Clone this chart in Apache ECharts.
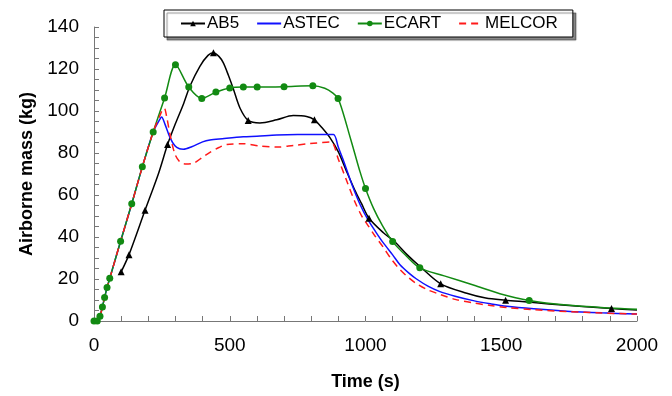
<!DOCTYPE html>
<html><head><meta charset="utf-8">
<script src="https://cdn.jsdelivr.net/npm/echarts@6/dist/echarts.min.js"></script>
<style>html,body{margin:0;padding:0;background:#fff}#c{width:672px;height:396px}</style>
</head><body><div id="c"></div>
<script>
const seriesNames = ['AB5', 'ASTEC', 'ECART', 'MELCOR'];
const xTickLabels = [0, 500, 1000, 1500, 2000];
const yTickLabels = [0, 20, 40, 60, 80, 100, 120, 140];

const ab5Time = [100,129,188,237,271,300,330,354,390,420,440,460,476,495,513,538,568,611,673,734,783,812,840,869,900,931,960,985,1013,1066,1105,1154,1203,1277,1373,1443,1516,1600,1676,1799,1906,2000];
const ab5Mass = [23.4,31.6,52.7,70,84,94,103.5,112,121.3,126.5,127.7,126,123,117,110.6,101.3,95.5,94.3,95.8,97.8,97.4,95.8,92,87.3,80.5,71,62.5,56,48.9,42,38.1,31.5,25.7,17.7,13.2,10.9,9.9,9,8.1,6.9,5.9,5.2];
const ab5Markers = [100,129,188,271,440,568,812,1013,1277,1516,1906];

const astecTime = [0,12,22,31,39,48,58,98,139,178,218,240,249,262,280,298,315,329,360,400,427,473,550,600,673,750,800,850,882,900,920,950,980,1010,1040,1065,1100,1127,1160,1188,1230,1274,1330,1397,1460,1520,1620,1741,1870,2000];
const astecMass = [0,0,2.3,6.7,11.2,15.9,20.3,38,55.8,73.4,90,95.5,97.2,93.5,87.3,83.4,82,81.8,83,85.3,86.2,86.8,87.7,88,88.6,88.8,88.8,88.8,88.8,82.7,76,65,55.5,48,42,37.3,31.5,26.8,22.8,20,16.6,14,11.8,9.7,8.2,7,5.8,4.7,3.9,3.3];

const ecartTime = [0,12,22,31,39,48,58,98,139,178,218,260,300,349,397,449,500,550,601,700,806,850,880,899,920,940,960,980,1000,1030,1060,1100,1150,1200,1290,1400,1495,1603,1740,1900,2000];
const ecartMass = [0,0,2.3,6.7,11.2,15.9,20.3,38,55.8,73.4,90,106.2,122,111.4,106,109,111,111.4,111.4,111.6,112,110.8,108.5,105.9,98,89,80,71,63.1,53.5,46,37.8,31,25.3,21.5,17,13,9.8,7.6,6.2,5.6];
const ecartMarkers = [0,12,22,31,39,48,58,98,139,178,218,260,300,349,397,449,500,550,601,700,806,899,1000,1100,1200,1603];

const melcorTime = [0,12,22,31,39,48,58,98,139,178,218,245,252,259,268,280,298,317,335,365,400,427,460,489,550,611,673,734,796,872,900,930,960,990,1004,1035,1065,1095,1127,1160,1188,1230,1274,1330,1397,1460,1520,1620,1741,1870,2000];
const melcorMass = [0,0,2.3,6.7,11.2,15.9,20.3,38,55.8,73.4,90,98.5,100.5,101.3,97,88.8,79.5,75.6,74.8,75.1,78,80.3,82.6,84.1,84.4,83.3,82.8,83.6,84.5,85.2,77,67,57,49,46.5,40.5,35.2,29.5,24.5,20.5,17.8,14.8,12.7,10.3,8.6,7.4,6.4,5.4,4.5,3.8,3.3];

function build(times, masses, markers) {
  return times.map((t, i) => {
    const item = { value: [t, masses[i]] };
    if (!markers || markers.indexOf(t) < 0) item.symbol = 'none';
    return item;
  });
}

const FONT = "'Liberation Sans', Arial, Helvetica, sans-serif";
const chart = echarts.init(document.getElementById('c'), null, { renderer: 'canvas' });

const baseSeries = (name, color, symbol, data, dashed) => ({
  name, type: 'line', data,
  smooth: 0.3,
  symbol: symbol || 'none', symbolSize: 7,
  showAllSymbol: true,
  lineStyle: { color, width: 1.5, type: dashed ? [7, 5] : 'solid' },
  itemStyle: { color },
  emphasis: { disabled: true },
  animation: false,
  z: 2
});

chart.setOption({
  animation: false,
  backgroundColor: '#fff',
  grid: { left: 94, right: 35, top: 27, bottom: 69 },
  legend: {
    data: [
      { name: seriesNames[0] },
      { name: seriesNames[1], itemStyle: { opacity: 0 } },
      { name: seriesNames[2] },
      { name: seriesNames[3], itemStyle: { opacity: 0 } }
    ],
    left: 164, top: 10,
    padding: [5, 15, 5, 16],
    itemGap: 17,
    itemWidth: 24, itemHeight: 7,
    backgroundColor: '#fff',
    borderColor: '#000', borderWidth: 1,
    shadowColor: 'rgba(0,0,0,0.45)', shadowBlur: 1, shadowOffsetX: 3, shadowOffsetY: 3,
    textStyle: { fontFamily: FONT, fontSize: 17, color: '#000', padding: [0, 0, 0, -3] }
  },
  xAxis: {
    type: 'value',
    min: xTickLabels[0], max: xTickLabels[xTickLabels.length - 1],
    interval: xTickLabels[1] - xTickLabels[0],
    name: 'Time (s)', nameLocation: 'middle', nameGap: 52,
    nameTextStyle: { fontFamily: FONT, fontSize: 18, fontWeight: 'bold', color: '#000' },
    axisLine: { show: true, lineStyle: { color: '#777', width: 1 } },
    axisTick: { show: true, inside: true, length: 5, lineStyle: { color: '#777' } },
    minorTick: { show: true, splitNumber: 5, length: 5, lineStyle: { color: '#777' } },
    axisLabel: { fontFamily: FONT, fontSize: 19, color: '#000', margin: 15, formatter: v => String(v) },
    splitLine: { show: false }
  },
  yAxis: {
    type: 'value',
    min: yTickLabels[0], max: yTickLabels[yTickLabels.length - 1],
    interval: yTickLabels[1] - yTickLabels[0],
    name: 'Airborne mass (kg)', nameLocation: 'middle', nameGap: 58,
    nameTextStyle: { fontFamily: FONT, fontSize: 18, fontWeight: 'bold', color: '#000' },
    axisLine: { show: true, lineStyle: { color: '#777', width: 1 } },
    axisTick: { show: true, inside: true, length: 5, lineStyle: { color: '#777' } },
    minorTick: { show: true, splitNumber: 4, length: 5, lineStyle: { color: '#777' } },
    axisLabel: { fontFamily: FONT, fontSize: 19, color: '#000', margin: 15, formatter: v => String(v) },
    splitLine: { show: false }
  },
  series: [
    baseSeries('AB5', '#000000', 'triangle', build(ab5Time, ab5Mass, ab5Markers)),
    baseSeries('ASTEC', '#1010ff', null, build(astecTime, astecMass, null)),
    baseSeries('ECART', '#128a12', 'circle', build(ecartTime, ecartMass, ecartMarkers)),
    baseSeries('MELCOR', '#ff1a1a', null, build(melcorTime, melcorMass, null), true)
  ]
});
</script></body></html>
